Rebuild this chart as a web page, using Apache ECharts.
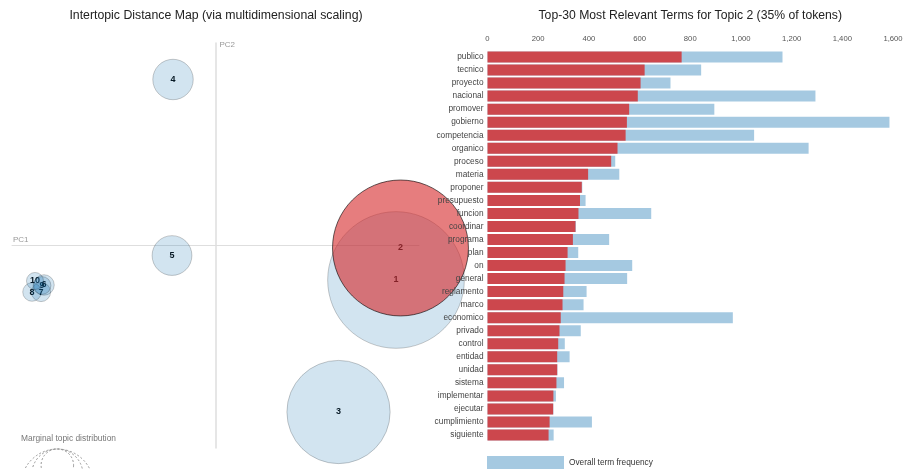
<!DOCTYPE html>
<html>
<head>
<meta charset="utf-8">
<script src="https://cdn.jsdelivr.net/npm/echarts@6/dist/echarts.min.js"></script>
<style>
  html, body { margin: 0; padding: 0; background: #fff; }
  #chart { width: 909px; height: 469px; }
</style>
</head>
<body>
<div id="chart"></div>
<script>
// Topic model overview: intertopic distance map (left) and top terms of the selected topic (right)

// --- topics: MDS coordinates and marginal share (% of tokens)
const topicIds   = [1, 2, 3, 4, 5, 6, 7, 8, 9, 10];
const topicPC1   = [0.3548, 0.3636, 0.2418, -0.0835, -0.0855, -0.3371, -0.3430, -0.3607, -0.3410, -0.3548];
const topicPC2   = [-0.0681, -0.0049, -0.3289, 0.3279, -0.0198, -0.0780, -0.0919, -0.0919, -0.0790, -0.0701];
const topicShare = [35.4, 35.0, 20.2, 3.1, 3.0, 0.8, 0.7, 0.65, 0.6, 0.55];
const selectedTopic = 2;
const guideShares = [2, 5, 10];

// --- top-30 terms for the selected topic
const terms = ['publico', 'tecnico', 'proyecto', 'nacional', 'promover', 'gobierno', 'competencia', 'organico',
  'proceso', 'materia', 'proponer', 'presupuesto', 'funcion', 'coordinar', 'programa', 'plan', 'on', 'general',
  'reglamento', 'marco', 'economico', 'privado', 'control', 'entidad', 'unidad', 'sistema', 'implementar',
  'ejecutar', 'cumplimiento', 'siguiente'];
const topicFreq = [766, 620, 604, 593, 559, 550, 545, 513, 488, 397, 372, 365, 359, 347, 337, 316, 308, 304,
  299, 296, 289, 284, 279, 275, 275, 272, 260, 259, 245, 241];
const totalFreq = [1164, 843, 722, 1294, 895, 1586, 1052, 1267, 504, 520, 374, 387, 646, 349, 480, 358, 571, 551,
  391, 379, 968, 368, 305, 324, 276, 302, 270, 260, 412, 261];
const freqTicks = [0, 200, 400, 600, 800, 1000, 1200, 1400, 1600];

const FONT = '"Liberation Sans", Arial, sans-serif';
const R_PER_SQRT_SHARE = 0.02258; // circle radius in PC units per sqrt(% of tokens)
const PC_RANGE = 0.4;

const topicRows = topicIds.map((id, i) => [topicPC1[i], topicPC2[i], topicShare[i], id]);
const selIdx = topicIds.indexOf(selectedTopic);

const chart = echarts.init(document.getElementById('chart'), null, { renderer: 'canvas' });

const mdsGrid = { left: 12, top: 43, width: 407, height: 405 };
const barGrid = { left: 487.5, top: 50.5, width: 405.5, height: 391 };

chart.setOption({
  animation: false,
  backgroundColor: '#fff',
  textStyle: { fontFamily: FONT },
  grid: [
    Object.assign({}, mdsGrid, { containLabel: false }),
    Object.assign({}, barGrid, { containLabel: false })
  ],
  xAxis: [
    {
      gridIndex: 0, type: 'value', min: -PC_RANGE, max: PC_RANGE,
      axisLine: { show: true, onZero: true, lineStyle: { color: '#dedede', width: 1 } },
      axisTick: { show: false }, axisLabel: { show: false }, splitLine: { show: false },
      name: 'PC1', nameLocation: 'start', nameGap: -1,
      nameTextStyle: { align: 'left', verticalAlign: 'bottom', padding: [0, 0, 2, 0], fontSize: 8, color: '#999', fontFamily: FONT }
    },
    {
      gridIndex: 1, type: 'value', position: 'top',
      min: freqTicks[0], max: freqTicks[freqTicks.length - 1], interval: freqTicks[1] - freqTicks[0],
      axisLine: { show: false }, axisTick: { show: false }, splitLine: { show: false },
      axisLabel: { fontSize: 7.7, color: '#555', margin: 8, fontFamily: FONT,
        formatter: v => v.toLocaleString('en-US') }
    }
  ],
  yAxis: [
    {
      gridIndex: 0, type: 'value', min: -PC_RANGE, max: PC_RANGE,
      axisLine: { show: true, onZero: true, lineStyle: { color: '#dedede', width: 1.5 } },
      axisTick: { show: false }, axisLabel: { show: false }, splitLine: { show: false },
      name: 'PC2', nameLocation: 'end', nameGap: 2,
      nameTextStyle: { align: 'left', verticalAlign: 'top', padding: [0, 0, 0, 4], fontSize: 8, color: '#999', fontFamily: FONT }
    },
    {
      gridIndex: 1, type: 'category', data: terms, inverse: true, z: 6,
      axisLine: { show: false }, axisTick: { show: false }, splitLine: { show: false },
      axisLabel: { fontSize: 8.3, color: '#444', margin: 4, fontFamily: FONT }
    }
  ],
  legend: {
    data: ['Overall term frequency'],
    left: 487, top: 456, padding: 0, itemWidth: 77, itemHeight: 13, icon: 'rect',
    selectedMode: false,
    textStyle: { fontSize: 8.3, color: '#333', fontFamily: FONT }
  },
  series: [
    // topic numbers (drawn beneath the circles)
    {
      type: 'custom', xAxisIndex: 0, yAxisIndex: 0, z: 2, silent: true,
      data: topicRows,
      renderItem: (params, api) => {
        const c = api.coord([api.value(0), api.value(1)]);
        return {
          type: 'text',
          style: {
            text: String(api.value(3)), x: c[0], y: c[1],
            align: 'center', verticalAlign: 'middle',
            fontSize: 9, fontWeight: 'bold', fontFamily: FONT, fill: '#000'
          }
        };
      }
    },
    // topic circles, area proportional to share of tokens
    {
      type: 'custom', xAxisIndex: 0, yAxisIndex: 0, z: 3, silent: true,
      data: topicRows,
      renderItem: (params, api) => {
        const c = api.coord([api.value(0), api.value(1)]);
        const r = api.size([R_PER_SQRT_SHARE * Math.sqrt(api.value(2)), 0])[0];
        const sel = api.value(3) === selectedTopic;
        return {
          type: 'circle',
          shape: { cx: c[0], cy: c[1], r: r },
          style: { fill: sel ? '#d62728' : '#1f77b4', stroke: '#000', lineWidth: 1, opacity: sel ? 0.6 : 0.2 }
        };
      }
    },
    // overall frequency
    {
      name: 'Overall term frequency', type: 'bar', xAxisIndex: 1, yAxisIndex: 1,
      data: totalFreq, barWidth: 11, barGap: '-100%',
      itemStyle: { color: 'rgba(31,119,180,0.4)' }
    },
    // frequency within the selected topic
    {
      name: 'Estimated term frequency within the selected topic', type: 'bar', xAxisIndex: 1, yAxisIndex: 1,
      data: topicFreq, barWidth: 11, barGap: '-100%',
      itemStyle: { color: 'rgba(214,39,40,0.8)' }
    }
  ]
});

// titles and the marginal-distribution guide
const zeroPx = chart.convertToPixel({ xAxisIndex: 0 }, 0);
const guideR = guideShares.map(s => chart.convertToPixel({ xAxisIndex: 0 }, R_PER_SQRT_SHARE * Math.sqrt(s)) - zeroPx);
const guideLeft = 21;
const guideTop = mdsGrid.top + mdsGrid.height + 1;
const rLarge = Math.max.apply(null, guideR);

chart.setOption({
  graphic: [
    { type: 'text', x: 216, y: 16, silent: true,
      style: { text: 'Intertopic Distance Map (via multidimensional scaling)', align: 'center', verticalAlign: 'middle',
        fontSize: 12.3, fontFamily: FONT, fill: '#222' } },
    { type: 'text', x: barGrid.left + barGrid.width / 2, y: 16, silent: true,
      style: { text: 'Top-30 Most Relevant Terms for Topic ' + selectedTopic + ' (' + Math.round(topicShare[selIdx]) + '% of tokens)',
        align: 'center', verticalAlign: 'middle', fontSize: 12.2, fontFamily: FONT, fill: '#222' } },
    { type: 'text', x: guideLeft, y: guideTop - 10, silent: true,
      style: { text: 'Marginal topic distribution', align: 'left', verticalAlign: 'middle',
        fontSize: 8.4, fontFamily: FONT, fill: '#777' } }
  ].concat(guideR.map(r => ({
    type: 'circle', silent: true,
    shape: { cx: guideLeft + rLarge, cy: guideTop + r, r: r },
    style: { fill: 'none', stroke: '#999', lineWidth: 1, lineDash: [2, 2] }
  })))
});
</script>
</body>
</html>
